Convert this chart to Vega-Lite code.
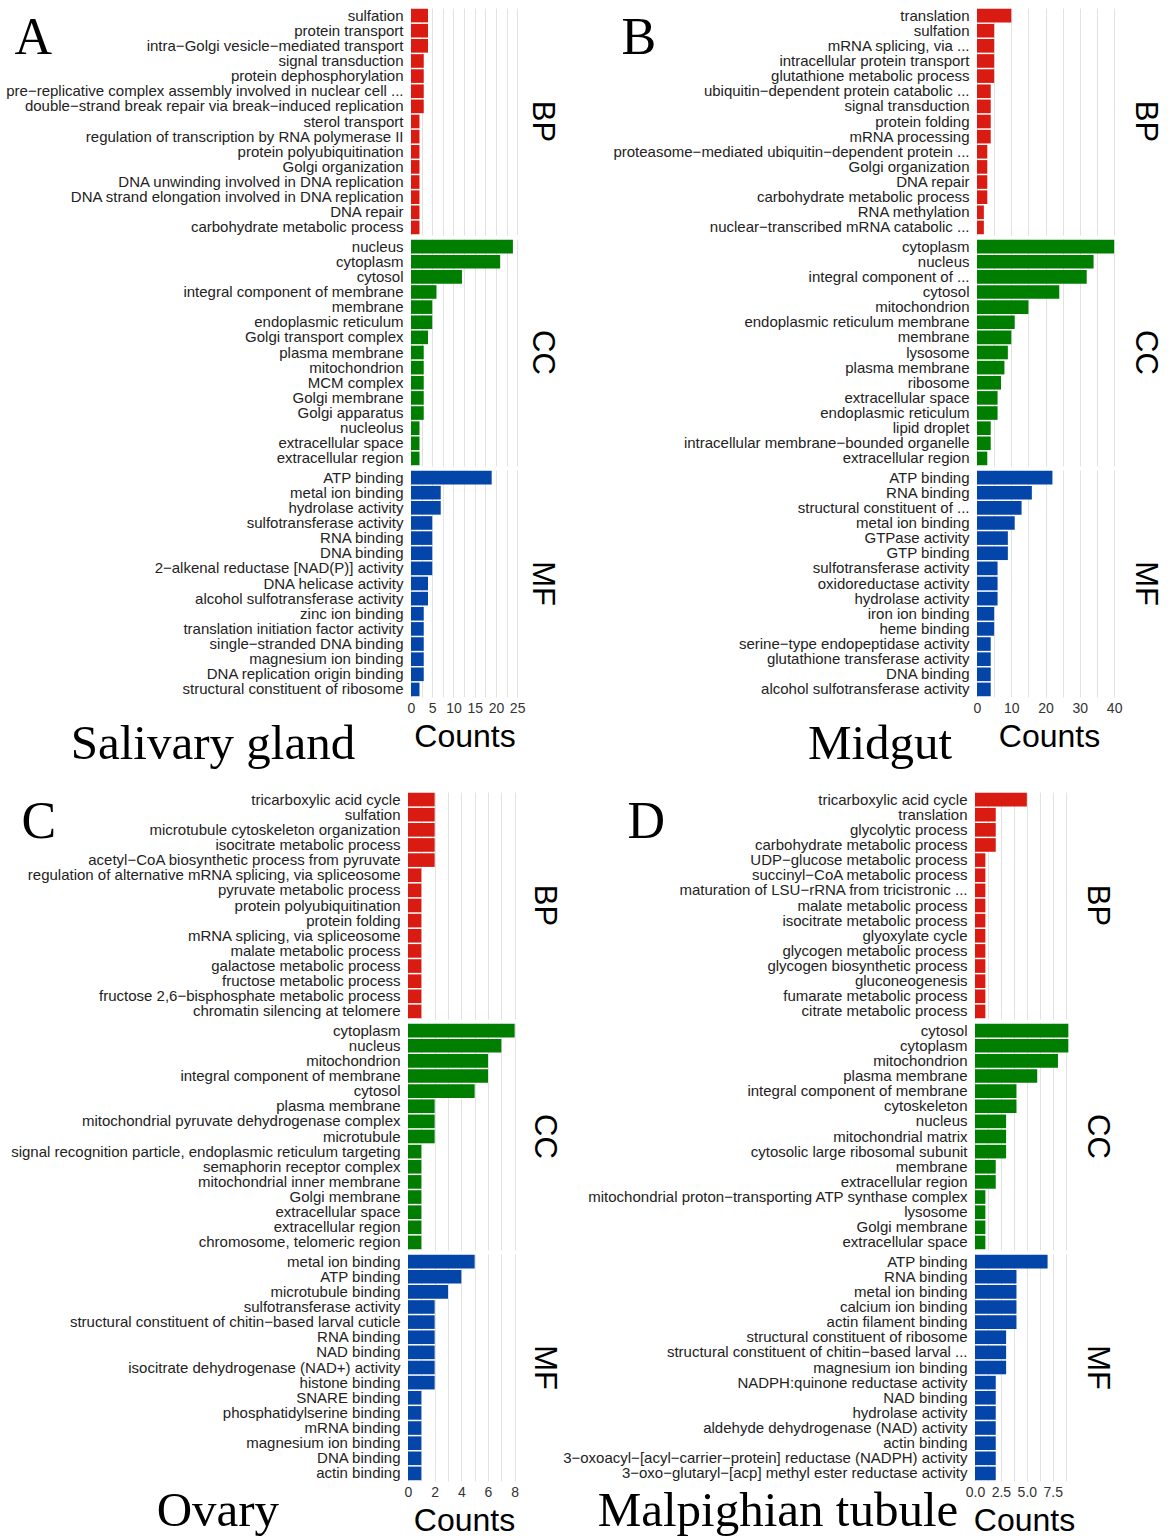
{
  "$schema": "https://vega.github.io/schema/vega-lite/v6.json",
  "padding": {"left": 5, "top": 8, "right": 5, "bottom": 0},
  "background": "white",
  "config": {"view": {"stroke": null}, "font": "Liberation Sans", "concat": {"spacing": 30}},
  "datasets": {
    "A": [
      {"c": "BP", "o": 1, "term": "sulfation", "n": 4},
      {"c": "BP", "o": 2, "term": "protein transport", "n": 4},
      {"c": "BP", "o": 3, "term": "intra−Golgi vesicle−mediated transport", "n": 4},
      {"c": "BP", "o": 4, "term": "signal transduction", "n": 3},
      {"c": "BP", "o": 5, "term": "protein dephosphorylation", "n": 3},
      {"c": "BP", "o": 6, "term": "pre−replicative complex assembly involved in nuclear cell ...", "n": 3},
      {"c": "BP", "o": 7, "term": "double−strand break repair via break−induced replication", "n": 3},
      {"c": "BP", "o": 8, "term": "sterol transport", "n": 2},
      {"c": "BP", "o": 9, "term": "regulation of transcription by RNA polymerase II", "n": 2},
      {"c": "BP", "o": 10, "term": "protein polyubiquitination", "n": 2},
      {"c": "BP", "o": 11, "term": "Golgi organization", "n": 2},
      {"c": "BP", "o": 12, "term": "DNA unwinding involved in DNA replication", "n": 2},
      {"c": "BP", "o": 13, "term": "DNA strand elongation involved in DNA replication", "n": 2},
      {"c": "BP", "o": 14, "term": "DNA repair", "n": 2},
      {"c": "BP", "o": 15, "term": "carbohydrate metabolic process", "n": 2},
      {"c": "CC", "o": 1, "term": "nucleus", "n": 24},
      {"c": "CC", "o": 2, "term": "cytoplasm", "n": 21},
      {"c": "CC", "o": 3, "term": "cytosol", "n": 12},
      {"c": "CC", "o": 4, "term": "integral component of membrane", "n": 6},
      {"c": "CC", "o": 5, "term": "membrane", "n": 5},
      {"c": "CC", "o": 6, "term": "endoplasmic reticulum", "n": 5},
      {"c": "CC", "o": 7, "term": "Golgi transport complex", "n": 4},
      {"c": "CC", "o": 8, "term": "plasma membrane", "n": 3},
      {"c": "CC", "o": 9, "term": "mitochondrion", "n": 3},
      {"c": "CC", "o": 10, "term": "MCM complex", "n": 3},
      {"c": "CC", "o": 11, "term": "Golgi membrane", "n": 3},
      {"c": "CC", "o": 12, "term": "Golgi apparatus", "n": 3},
      {"c": "CC", "o": 13, "term": "nucleolus", "n": 2},
      {"c": "CC", "o": 14, "term": "extracellular space", "n": 2},
      {"c": "CC", "o": 15, "term": "extracellular region", "n": 2},
      {"c": "MF", "o": 1, "term": "ATP binding", "n": 19},
      {"c": "MF", "o": 2, "term": "metal ion binding", "n": 7},
      {"c": "MF", "o": 3, "term": "hydrolase activity", "n": 7},
      {"c": "MF", "o": 4, "term": "sulfotransferase activity", "n": 5},
      {"c": "MF", "o": 5, "term": "RNA binding", "n": 5},
      {"c": "MF", "o": 6, "term": "DNA binding", "n": 5},
      {"c": "MF", "o": 7, "term": "2−alkenal reductase [NAD(P)] activity", "n": 5},
      {"c": "MF", "o": 8, "term": "DNA helicase activity", "n": 4},
      {"c": "MF", "o": 9, "term": "alcohol sulfotransferase activity", "n": 4},
      {"c": "MF", "o": 10, "term": "zinc ion binding", "n": 3},
      {"c": "MF", "o": 11, "term": "translation initiation factor activity", "n": 3},
      {"c": "MF", "o": 12, "term": "single−stranded DNA binding", "n": 3},
      {"c": "MF", "o": 13, "term": "magnesium ion binding", "n": 3},
      {"c": "MF", "o": 14, "term": "DNA replication origin binding", "n": 3},
      {"c": "MF", "o": 15, "term": "structural constituent of ribosome", "n": 2}
    ],
    "B": [
      {"c": "BP", "o": 1, "term": "translation", "n": 10},
      {"c": "BP", "o": 2, "term": "sulfation", "n": 5},
      {"c": "BP", "o": 3, "term": "mRNA splicing, via ...", "n": 5},
      {"c": "BP", "o": 4, "term": "intracellular protein transport", "n": 5},
      {"c": "BP", "o": 5, "term": "glutathione metabolic process", "n": 5},
      {"c": "BP", "o": 6, "term": "ubiquitin−dependent protein catabolic ...", "n": 4},
      {"c": "BP", "o": 7, "term": "signal transduction", "n": 4},
      {"c": "BP", "o": 8, "term": "protein folding", "n": 4},
      {"c": "BP", "o": 9, "term": "mRNA processing", "n": 4},
      {"c": "BP", "o": 10, "term": "proteasome−mediated ubiquitin−dependent protein ...", "n": 3},
      {"c": "BP", "o": 11, "term": "Golgi organization", "n": 3},
      {"c": "BP", "o": 12, "term": "DNA repair", "n": 3},
      {"c": "BP", "o": 13, "term": "carbohydrate metabolic process", "n": 3},
      {"c": "BP", "o": 14, "term": "RNA methylation", "n": 2},
      {"c": "BP", "o": 15, "term": "nuclear−transcribed mRNA catabolic ...", "n": 2},
      {"c": "CC", "o": 1, "term": "cytoplasm", "n": 40},
      {"c": "CC", "o": 2, "term": "nucleus", "n": 34},
      {"c": "CC", "o": 3, "term": "integral component of ...", "n": 32},
      {"c": "CC", "o": 4, "term": "cytosol", "n": 24},
      {"c": "CC", "o": 5, "term": "mitochondrion", "n": 15},
      {"c": "CC", "o": 6, "term": "endoplasmic reticulum membrane", "n": 11},
      {"c": "CC", "o": 7, "term": "membrane", "n": 10},
      {"c": "CC", "o": 8, "term": "lysosome", "n": 9},
      {"c": "CC", "o": 9, "term": "plasma membrane", "n": 8},
      {"c": "CC", "o": 10, "term": "ribosome", "n": 7},
      {"c": "CC", "o": 11, "term": "extracellular space", "n": 6},
      {"c": "CC", "o": 12, "term": "endoplasmic reticulum", "n": 6},
      {"c": "CC", "o": 13, "term": "lipid droplet", "n": 4},
      {"c": "CC", "o": 14, "term": "intracellular membrane−bounded organelle", "n": 4},
      {"c": "CC", "o": 15, "term": "extracellular region", "n": 3},
      {"c": "MF", "o": 1, "term": "ATP binding", "n": 22},
      {"c": "MF", "o": 2, "term": "RNA binding", "n": 16},
      {"c": "MF", "o": 3, "term": "structural constituent of ...", "n": 13},
      {"c": "MF", "o": 4, "term": "metal ion binding", "n": 11},
      {"c": "MF", "o": 5, "term": "GTPase activity", "n": 9},
      {"c": "MF", "o": 6, "term": "GTP binding", "n": 9},
      {"c": "MF", "o": 7, "term": "sulfotransferase activity", "n": 6},
      {"c": "MF", "o": 8, "term": "oxidoreductase activity", "n": 6},
      {"c": "MF", "o": 9, "term": "hydrolase activity", "n": 6},
      {"c": "MF", "o": 10, "term": "iron ion binding", "n": 5},
      {"c": "MF", "o": 11, "term": "heme binding", "n": 5},
      {"c": "MF", "o": 12, "term": "serine−type endopeptidase activity", "n": 4},
      {"c": "MF", "o": 13, "term": "glutathione transferase activity", "n": 4},
      {"c": "MF", "o": 14, "term": "DNA binding", "n": 4},
      {"c": "MF", "o": 15, "term": "alcohol sulfotransferase activity", "n": 4}
    ],
    "C": [
      {"c": "BP", "o": 1, "term": "tricarboxylic acid cycle", "n": 2},
      {"c": "BP", "o": 2, "term": "sulfation", "n": 2},
      {"c": "BP", "o": 3, "term": "microtubule cytoskeleton organization", "n": 2},
      {"c": "BP", "o": 4, "term": "isocitrate metabolic process", "n": 2},
      {"c": "BP", "o": 5, "term": "acetyl−CoA biosynthetic process from pyruvate", "n": 2},
      {"c": "BP", "o": 6, "term": "regulation of alternative mRNA splicing, via spliceosome", "n": 1},
      {"c": "BP", "o": 7, "term": "pyruvate metabolic process", "n": 1},
      {"c": "BP", "o": 8, "term": "protein polyubiquitination", "n": 1},
      {"c": "BP", "o": 9, "term": "protein folding", "n": 1},
      {"c": "BP", "o": 10, "term": "mRNA splicing, via spliceosome", "n": 1},
      {"c": "BP", "o": 11, "term": "malate metabolic process", "n": 1},
      {"c": "BP", "o": 12, "term": "galactose metabolic process", "n": 1},
      {"c": "BP", "o": 13, "term": "fructose metabolic process", "n": 1},
      {"c": "BP", "o": 14, "term": "fructose 2,6−bisphosphate metabolic process", "n": 1},
      {"c": "BP", "o": 15, "term": "chromatin silencing at telomere", "n": 1},
      {"c": "CC", "o": 1, "term": "cytoplasm", "n": 8},
      {"c": "CC", "o": 2, "term": "nucleus", "n": 7},
      {"c": "CC", "o": 3, "term": "mitochondrion", "n": 6},
      {"c": "CC", "o": 4, "term": "integral component of membrane", "n": 6},
      {"c": "CC", "o": 5, "term": "cytosol", "n": 5},
      {"c": "CC", "o": 6, "term": "plasma membrane", "n": 2},
      {"c": "CC", "o": 7, "term": "mitochondrial pyruvate dehydrogenase complex", "n": 2},
      {"c": "CC", "o": 8, "term": "microtubule", "n": 2},
      {"c": "CC", "o": 9, "term": "signal recognition particle, endoplasmic reticulum targeting", "n": 1},
      {"c": "CC", "o": 10, "term": "semaphorin receptor complex", "n": 1},
      {"c": "CC", "o": 11, "term": "mitochondrial inner membrane", "n": 1},
      {"c": "CC", "o": 12, "term": "Golgi membrane", "n": 1},
      {"c": "CC", "o": 13, "term": "extracellular space", "n": 1},
      {"c": "CC", "o": 14, "term": "extracellular region", "n": 1},
      {"c": "CC", "o": 15, "term": "chromosome, telomeric region", "n": 1},
      {"c": "MF", "o": 1, "term": "metal ion binding", "n": 5},
      {"c": "MF", "o": 2, "term": "ATP binding", "n": 4},
      {"c": "MF", "o": 3, "term": "microtubule binding", "n": 3},
      {"c": "MF", "o": 4, "term": "sulfotransferase activity", "n": 2},
      {"c": "MF", "o": 5, "term": "structural constituent of chitin−based larval cuticle", "n": 2},
      {"c": "MF", "o": 6, "term": "RNA binding", "n": 2},
      {"c": "MF", "o": 7, "term": "NAD binding", "n": 2},
      {"c": "MF", "o": 8, "term": "isocitrate dehydrogenase (NAD+) activity", "n": 2},
      {"c": "MF", "o": 9, "term": "histone binding", "n": 2},
      {"c": "MF", "o": 10, "term": "SNARE binding", "n": 1},
      {"c": "MF", "o": 11, "term": "phosphatidylserine binding", "n": 1},
      {"c": "MF", "o": 12, "term": "mRNA binding", "n": 1},
      {"c": "MF", "o": 13, "term": "magnesium ion binding", "n": 1},
      {"c": "MF", "o": 14, "term": "DNA binding", "n": 1},
      {"c": "MF", "o": 15, "term": "actin binding", "n": 1}
    ],
    "D": [
      {"c": "BP", "o": 1, "term": "tricarboxylic acid cycle", "n": 5},
      {"c": "BP", "o": 2, "term": "translation", "n": 2},
      {"c": "BP", "o": 3, "term": "glycolytic process", "n": 2},
      {"c": "BP", "o": 4, "term": "carbohydrate metabolic process", "n": 2},
      {"c": "BP", "o": 5, "term": "UDP−glucose metabolic process", "n": 1},
      {"c": "BP", "o": 6, "term": "succinyl−CoA metabolic process", "n": 1},
      {"c": "BP", "o": 7, "term": "maturation of LSU−rRNA from tricistronic ...", "n": 1},
      {"c": "BP", "o": 8, "term": "malate metabolic process", "n": 1},
      {"c": "BP", "o": 9, "term": "isocitrate metabolic process", "n": 1},
      {"c": "BP", "o": 10, "term": "glyoxylate cycle", "n": 1},
      {"c": "BP", "o": 11, "term": "glycogen metabolic process", "n": 1},
      {"c": "BP", "o": 12, "term": "glycogen biosynthetic process", "n": 1},
      {"c": "BP", "o": 13, "term": "gluconeogenesis", "n": 1},
      {"c": "BP", "o": 14, "term": "fumarate metabolic process", "n": 1},
      {"c": "BP", "o": 15, "term": "citrate metabolic process", "n": 1},
      {"c": "CC", "o": 1, "term": "cytosol", "n": 9},
      {"c": "CC", "o": 2, "term": "cytoplasm", "n": 9},
      {"c": "CC", "o": 3, "term": "mitochondrion", "n": 8},
      {"c": "CC", "o": 4, "term": "plasma membrane", "n": 6},
      {"c": "CC", "o": 5, "term": "integral component of membrane", "n": 4},
      {"c": "CC", "o": 6, "term": "cytoskeleton", "n": 4},
      {"c": "CC", "o": 7, "term": "nucleus", "n": 3},
      {"c": "CC", "o": 8, "term": "mitochondrial matrix", "n": 3},
      {"c": "CC", "o": 9, "term": "cytosolic large ribosomal subunit", "n": 3},
      {"c": "CC", "o": 10, "term": "membrane", "n": 2},
      {"c": "CC", "o": 11, "term": "extracellular region", "n": 2},
      {"c": "CC", "o": 12, "term": "mitochondrial proton−transporting ATP synthase complex", "n": 1},
      {"c": "CC", "o": 13, "term": "lysosome", "n": 1},
      {"c": "CC", "o": 14, "term": "Golgi membrane", "n": 1},
      {"c": "CC", "o": 15, "term": "extracellular space", "n": 1},
      {"c": "MF", "o": 1, "term": "ATP binding", "n": 7},
      {"c": "MF", "o": 2, "term": "RNA binding", "n": 4},
      {"c": "MF", "o": 3, "term": "metal ion binding", "n": 4},
      {"c": "MF", "o": 4, "term": "calcium ion binding", "n": 4},
      {"c": "MF", "o": 5, "term": "actin filament binding", "n": 4},
      {"c": "MF", "o": 6, "term": "structural constituent of ribosome", "n": 3},
      {"c": "MF", "o": 7, "term": "structural constituent of chitin−based larval ...", "n": 3},
      {"c": "MF", "o": 8, "term": "magnesium ion binding", "n": 3},
      {"c": "MF", "o": 9, "term": "NADPH:quinone reductase activity", "n": 2},
      {"c": "MF", "o": 10, "term": "NAD binding", "n": 2},
      {"c": "MF", "o": 11, "term": "hydrolase activity", "n": 2},
      {"c": "MF", "o": 12, "term": "aldehyde dehydrogenase (NAD) activity", "n": 2},
      {"c": "MF", "o": 13, "term": "actin binding", "n": 2},
      {"c": "MF", "o": 14, "term": "3−oxoacyl−[acyl−carrier−protein] reductase (NADPH) activity", "n": 2},
      {"c": "MF", "o": 15, "term": "3−oxo−glutaryl−[acp] methyl ester reductase activity", "n": 2}
    ]
  },
  "vconcat": [
    {
      "hconcat": [
        {
          "bounds": "flush",
          "spacing": 396,
          "hconcat": [
            {"data": {"values": [{"label": "A"}]}, "width": 1, "height": 60, "mark": {"type": "text", "align": "left", "baseline": "middle", "font": "Liberation Serif", "fontSize": 52, "color": "black"}, "encoding": {"text": {"field": "label", "type": "nominal"}}},
            {
              "data": {"name": "A"},
              "title": {"text": "Salivary gland", "orient": "bottom", "anchor": "start", "font": "Liberation Serif", "fontSize": 49, "fontWeight": "normal", "color": "black", "baseline": "alphabetic", "offset": 7, "dx": 65},
              "facet": {"row": {"field": "c", "type": "nominal", "title": null, "sort": ["BP", "CC", "MF"], "header": {"labelOrient": "right", "labelAngle": 90, "labelFontSize": 31, "labelFont": "Liberation Sans", "labelColor": "black", "labelPadding": 8}}},
              "spacing": {"row": 4},
              "resolve": {"scale": {"y": "independent"}},
              "spec": {
                "width": 107, "height": 227,
                "mark": {"type": "bar"},
                "encoding": {
                  "y": {"field": "term", "type": "nominal", "sort": {"field": "o", "op": "min"}, "scale": {"paddingInner": 0.1, "paddingOuter": 0.05}, "axis": {"title": null, "ticks": false, "domain": false, "grid": false, "labelFontSize": 15, "labelColor": "#222", "labelLimit": 0, "labelPadding": 8}},
                  "x": {"field": "n", "type": "quantitative", "scale": {"domain": [0, 25.2], "nice": false}, "axis": {"values": [0, 2.5, 5, 7.5, 10, 12.5, 15, 17.5, 20, 22.5, 25], "labelExpr": "datum.value % 5 === 0 ? datum.label : ''", "labelOverlap": false, "labelFlush": false, "grid": true, "gridColor": "#e2e2e2", "domain": false, "ticks": false, "labelFontSize": 14, "labelColor": "#333", "labelPadding": 4, "title": "Counts", "titleFontSize": 32, "titleFontWeight": "normal", "titleColor": "black", "titlePadding": 6}},
                  "color": {"field": "c", "type": "nominal", "scale": {"domain": ["BP", "CC", "MF"], "range": ["#DA1B12", "#007E00", "#0445A9"]}, "legend": null}
                }
              }
            }
          ]
        },
        {
          "bounds": "flush",
          "spacing": 355,
          "hconcat": [
            {"data": {"values": [{"label": "B"}]}, "width": 1, "height": 60, "mark": {"type": "text", "align": "left", "baseline": "middle", "font": "Liberation Serif", "fontSize": 52, "color": "black"}, "encoding": {"text": {"field": "label", "type": "nominal"}}},
            {
              "data": {"name": "B"},
              "title": {"text": "Midgut", "orient": "bottom", "anchor": "start", "font": "Liberation Serif", "fontSize": 49, "fontWeight": "normal", "color": "black", "baseline": "alphabetic", "offset": 7, "dx": 195},
              "facet": {"row": {"field": "c", "type": "nominal", "title": null, "sort": ["BP", "CC", "MF"], "header": {"labelOrient": "right", "labelAngle": 90, "labelFontSize": 31, "labelFont": "Liberation Sans", "labelColor": "black", "labelPadding": 8}}},
              "spacing": {"row": 4},
              "resolve": {"scale": {"y": "independent"}},
              "spec": {
                "width": 144, "height": 227,
                "mark": {"type": "bar"},
                "encoding": {
                  "y": {"field": "term", "type": "nominal", "sort": {"field": "o", "op": "min"}, "scale": {"paddingInner": 0.1, "paddingOuter": 0.05}, "axis": {"title": null, "ticks": false, "domain": false, "grid": false, "labelFontSize": 15, "labelColor": "#222", "labelLimit": 0, "labelPadding": 8}},
                  "x": {"field": "n", "type": "quantitative", "scale": {"domain": [0, 42], "nice": false}, "axis": {"values": [0, 5, 10, 15, 20, 25, 30, 35, 40], "labelExpr": "datum.value % 10 === 0 ? datum.label : ''", "labelOverlap": false, "labelFlush": false, "grid": true, "gridColor": "#e2e2e2", "domain": false, "ticks": false, "labelFontSize": 14, "labelColor": "#333", "labelPadding": 4, "title": "Counts", "titleFontSize": 32, "titleFontWeight": "normal", "titleColor": "black", "titlePadding": 6}},
                  "color": {"field": "c", "type": "nominal", "scale": {"domain": ["BP", "CC", "MF"], "range": ["#DA1B12", "#007E00", "#0445A9"]}, "legend": null}
                }
              }
            }
          ]
        }
      ],
      "spacing": 54
    },
    {
      "hconcat": [
        {
          "bounds": "flush",
          "spacing": 379,
          "hconcat": [
            {"data": {"values": [{"label": "C"}]}, "width": 15, "height": 60, "mark": {"type": "text", "align": "left", "baseline": "middle", "font": "Liberation Serif", "fontSize": 52, "color": "black"}, "encoding": {"text": {"field": "label", "type": "nominal"}}},
            {
              "data": {"name": "C"},
              "title": {"text": "Ovary", "orient": "bottom", "anchor": "start", "font": "Liberation Serif", "fontSize": 49, "fontWeight": "normal", "color": "black", "baseline": "alphabetic", "offset": -10, "dx": 146},
              "facet": {"row": {"field": "c", "type": "nominal", "title": null, "sort": ["BP", "CC", "MF"], "header": {"labelOrient": "right", "labelAngle": 90, "labelFontSize": 31, "labelFont": "Liberation Sans", "labelColor": "black", "labelPadding": 8}}},
              "spacing": {"row": 4},
              "resolve": {"scale": {"y": "independent"}},
              "spec": {
                "width": 112, "height": 227,
                "mark": {"type": "bar"},
                "encoding": {
                  "y": {"field": "term", "type": "nominal", "sort": {"field": "o", "op": "min"}, "scale": {"paddingInner": 0.1, "paddingOuter": 0.05}, "axis": {"title": null, "ticks": false, "domain": false, "grid": false, "labelFontSize": 15, "labelColor": "#222", "labelLimit": 0, "labelPadding": 8}},
                  "x": {"field": "n", "type": "quantitative", "scale": {"domain": [0, 8.4], "nice": false}, "axis": {"values": [0, 1, 2, 3, 4, 5, 6, 7, 8], "labelExpr": "datum.value % 2 === 0 ? datum.label : ''", "labelOverlap": false, "labelFlush": false, "grid": true, "gridColor": "#e2e2e2", "domain": false, "ticks": false, "labelFontSize": 14, "labelColor": "#333", "labelPadding": 4, "title": "Counts", "titleFontSize": 32, "titleFontWeight": "normal", "titleColor": "black", "titlePadding": 6}},
                  "color": {"field": "c", "type": "nominal", "scale": {"domain": ["BP", "CC", "MF"], "range": ["#DA1B12", "#007E00", "#0445A9"]}, "legend": null}
                }
              }
            }
          ]
        },
        {
          "bounds": "flush",
          "spacing": 347,
          "hconcat": [
            {"data": {"values": [{"label": "D"}]}, "width": 1, "height": 60, "mark": {"type": "text", "align": "left", "baseline": "middle", "font": "Liberation Serif", "fontSize": 52, "color": "black"}, "encoding": {"text": {"field": "label", "type": "nominal"}}},
            {
              "data": {"name": "D"},
              "title": {"text": "Malpighian tubule", "orient": "bottom", "anchor": "start", "font": "Liberation Serif", "fontSize": 49, "fontWeight": "normal", "color": "black", "baseline": "alphabetic", "offset": -10, "dx": 35},
              "facet": {"row": {"field": "c", "type": "nominal", "title": null, "sort": ["BP", "CC", "MF"], "header": {"labelOrient": "right", "labelAngle": 90, "labelFontSize": 31, "labelFont": "Liberation Sans", "labelColor": "black", "labelPadding": 8}}},
              "spacing": {"row": 4},
              "resolve": {"scale": {"y": "independent"}},
              "spec": {
                "width": 98, "height": 227,
                "mark": {"type": "bar"},
                "encoding": {
                  "y": {"field": "term", "type": "nominal", "sort": {"field": "o", "op": "min"}, "scale": {"paddingInner": 0.1, "paddingOuter": 0.05}, "axis": {"title": null, "ticks": false, "domain": false, "grid": false, "labelFontSize": 15, "labelColor": "#222", "labelLimit": 0, "labelPadding": 8}},
                  "x": {"field": "n", "type": "quantitative", "scale": {"domain": [0, 9.45], "nice": false}, "axis": {"values": [0, 1.25, 2.5, 3.75, 5, 6.25, 7.5, 8.75], "labelExpr": "datum.value % 2.5 === 0 ? format(datum.value, '.1f') : ''", "labelOverlap": false, "labelFlush": false, "grid": true, "gridColor": "#e2e2e2", "domain": false, "ticks": false, "labelFontSize": 14, "labelColor": "#333", "labelPadding": 4, "title": "Counts", "titleFontSize": 32, "titleFontWeight": "normal", "titleColor": "black", "titlePadding": 6}},
                  "color": {"field": "c", "type": "nominal", "scale": {"domain": ["BP", "CC", "MF"], "range": ["#DA1B12", "#007E00", "#0445A9"]}, "legend": null}
                }
              }
            }
          ]
        }
      ],
      "spacing": 2
    }
  ],
  "spacing": 23
}
